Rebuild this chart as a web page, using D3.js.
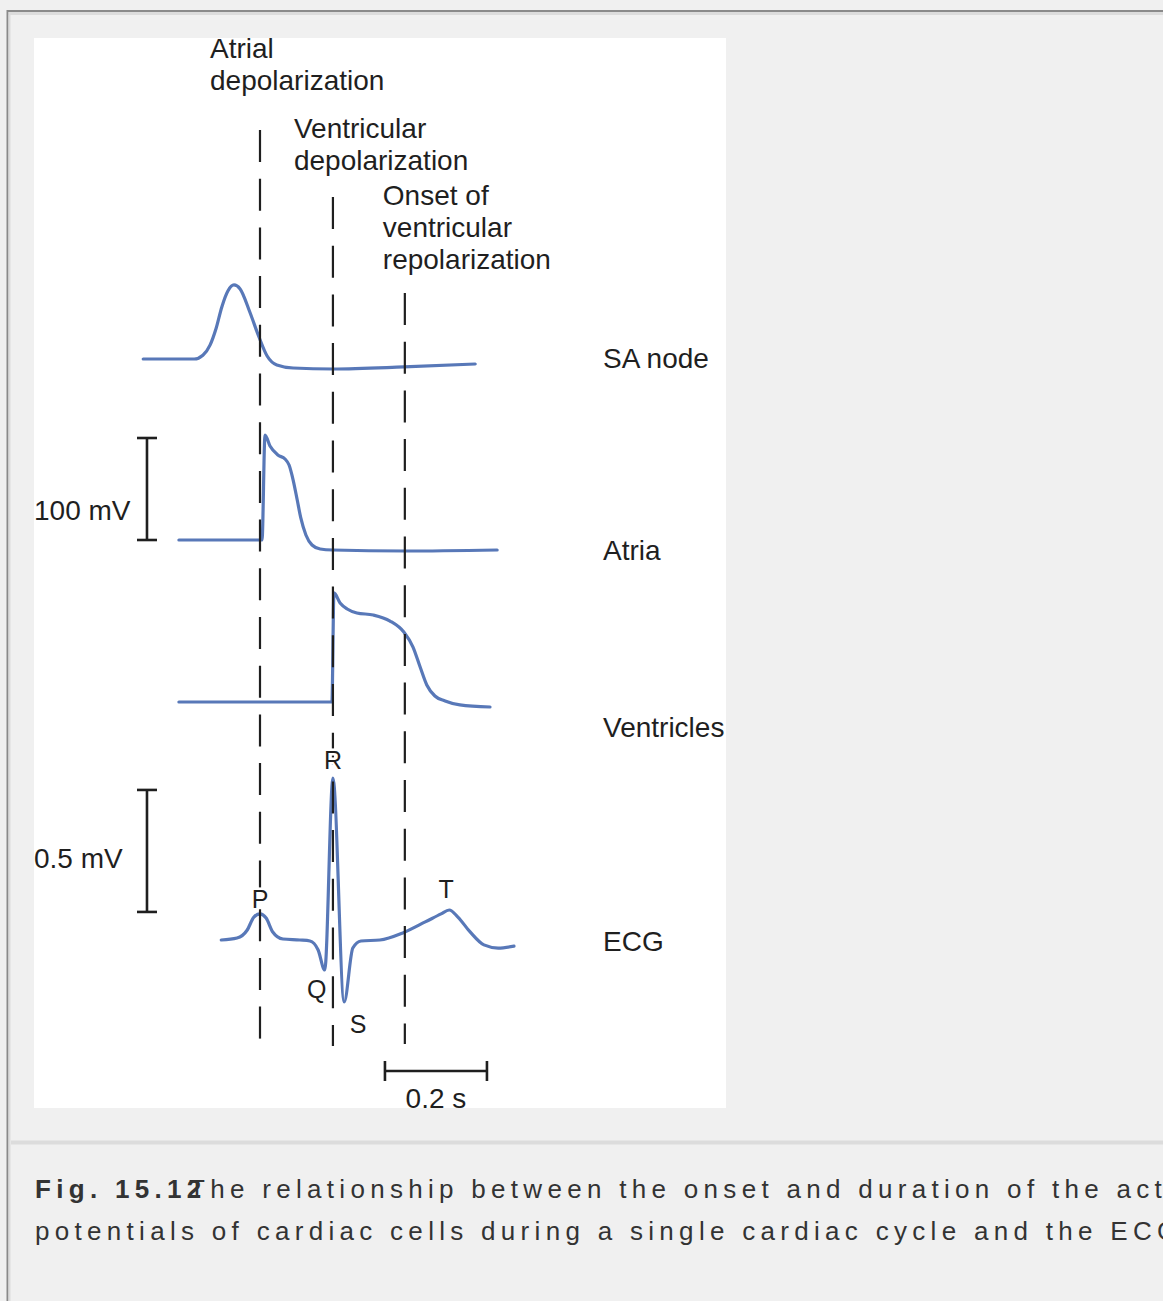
<!DOCTYPE html>
<html>
<head>
<meta charset="utf-8">
<script src="https://cdn.jsdelivr.net/npm/d3@7"></script>
<style>
html,body{margin:0;padding:0;background:#f0f0f0;overflow:hidden;}
svg{display:block;}
</style>
</head>
<body>
<script>
// ---------------- DATA ----------------
// time in seconds (0 = onset of atrial depolarization), voltage in mV
const saNode = [[-0.229,-50.2],[-0.129,-50.2],[-0.112,-46.5],[-0.098,-36.6],[-0.086,-20.0],[-0.075,0.6],[-0.063,16.5],[-0.051,22.4],[-0.039,18.5],[-0.020,-4.1],[-0.002,-28.6],[0.014,-47.3],[0.033,-56.1],[0.065,-59.0],[0.143,-60.0],[0.282,-58.0],[0.422,-55.1]];
const atria = [[-0.159,-80],[0.004,-80],[0.0098,22.9],[0.0196,12.1],[0.035,3.3],[0.049,-0.6],[0.057,-6.5],[0.065,-21.2],[0.073,-40.8],[0.080,-58.4],[0.090,-75.1],[0.102,-84.9],[0.118,-88.8],[0.143,-89.8],[0.284,-90.8],[0.465,-89.8]];
const ventricles = [[-0.159,-90],[0.141,-90],[0.145,16.9],[0.157,7.1],[0.171,1.2],[0.190,-2.7],[0.222,-4.7],[0.255,-10.6],[0.282,-21.4],[0.300,-36.1],[0.314,-55.7],[0.327,-73.3],[0.343,-84.1],[0.363,-89.0],[0.392,-92.9],[0.451,-94.9]];
const ecg = [[-0.076,0],[-0.045,0.008],[-0.025,0.041],[-0.012,0.094],[0.0,0.107],[0.012,0.090],[0.025,0.033],[0.045,0.004],[0.078,0],[0.098,-0.004],[0.114,-0.041],[0.127,-0.123],[0.143,0.664],[0.165,-0.254],[0.182,-0.033],[0.198,-0.004],[0.235,0],[0.280,0.029],[0.324,0.074],[0.355,0.107],[0.371,0.123],[0.388,0.094],[0.412,0.033],[0.439,-0.020],[0.467,-0.033],[0.498,-0.025]];

const traceNames = ["SA node","Atria","Ventricles","ECG"];
const eventTimes = [0, 0.143, 0.284];
const eventLabels = [["Atrial","depolarization"],["Ventricular","depolarization"],["Onset of","ventricular","repolarization"]];
const waveNames = ["P","Q","R","S","T"];
const waveTimes = [0.0, 0.127, 0.143, 0.165, 0.371];
const apBar = [-80, 20];      // 100 mV
const apBarLabel = "100 mV";
const ecgBar = [0.115, 0.615]; // 0.5 mV
const ecgBarLabel = "0.5 mV";
const timeBar = [0.245, 0.445]; // 0.2 s
const timeBarLabel = "0.2 s";
const captionBold = "Fig. 15.12";
const captionLine1 = "The relationship between the onset and duration of the action";
const captionLine2 = "potentials of cardiac cells during a single cardiac cycle and the ECG.";

// ---------------- LAYOUT ----------------
const W = 1163, H = 1301;
const panel = {x:34, y:38, w:692, h:1070};
const curveColor = "#5878b8";
const ink = "#1f1f1f";
const font = "'Liberation Sans', Arial, Helvetica, sans-serif";

const svg = d3.select("body").append("svg").attr("width", W).attr("height", H);

// frame
svg.append("rect").attr("x",0).attr("y",0).attr("width",W).attr("height",H).attr("fill","#f0f0f0");
svg.append("line").attr("x1",7).attr("x2",W).attr("y1",11).attr("y2",11).attr("stroke","#8a8a8a").attr("stroke-width",2);
svg.append("line").attr("x1",8).attr("x2",W).attr("y1",13.5).attr("y2",13.5).attr("stroke","#dcdcdc").attr("stroke-width",3);
svg.append("line").attr("x1",7.5).attr("x2",7.5).attr("y1",10).attr("y2",H).attr("stroke","#8a8a8a").attr("stroke-width",2);
svg.append("line").attr("x1",9.5).attr("x2",9.5).attr("y1",12).attr("y2",H).attr("stroke","#dcdcdc").attr("stroke-width",2);
svg.append("line").attr("x1",11).attr("x2",W).attr("y1",1142.5).attr("y2",1142.5).attr("stroke","#dcdcdc").attr("stroke-width",4);

// panel
svg.append("defs").append("clipPath").attr("id","pclip").append("rect")
  .attr("x",panel.x).attr("y",panel.y).attr("width",panel.w).attr("height",panel.h);
svg.append("rect").attr("x",panel.x).attr("y",panel.y).attr("width",panel.w).attr("height",panel.h).attr("fill","#ffffff");
const g = svg.append("g").attr("clip-path","url(#pclip)");

// scales
const x = d3.scaleLinear().domain([0, 0.2]).range([260, 362]);
const ySA = d3.scaleLinear().domain([-60, 40]).range([369, 267]);
const yAtria = d3.scaleLinear().domain([-80, 20]).range([540, 438]);
const yVent = d3.scaleLinear().domain([-90, 10]).range([702, 600]);
const yECG = d3.scaleLinear().domain([0, 0.5]).range([940, 818]);

const mkLine = ys => d3.line().x(d => x(d[0])).y(d => ys(d[1])).curve(d3.curveMonotoneX);

const traces = [[saNode, ySA],[atria, yAtria],[ventricles, yVent],[ecg, yECG]];
g.selectAll("path.trace").data(traces).enter().append("path")
  .attr("class","trace")
  .attr("d", d => mkLine(d[1])(d[0]))
  .attr("fill","none").attr("stroke",curveColor).attr("stroke-width",3.2)
  .attr("stroke-linejoin","round").attr("stroke-linecap","round");

// dashed event lines
const dashExtent = [[130,1042],[197,1046],[293,1044]];
g.selectAll("line.evt").data(eventTimes).enter().append("line")
  .attr("class","evt")
  .attr("x1", d => x(d)).attr("x2", d => x(d))
  .attr("y1", (d,i) => dashExtent[i][0]).attr("y2", (d,i) => dashExtent[i][1])
  .attr("stroke", ink).attr("stroke-width",2.2).attr("stroke-dasharray","32,16.7");

// event labels
const evtLabelOffset = [[-50, 58],[-39, 138],[-22, 205]];
eventLabels.forEach((lines, i) => {
  const t = g.append("text").attr("font-family",font).attr("font-size",28).attr("fill",ink);
  lines.forEach((s, j) => {
    t.append("tspan").attr("x", x(eventTimes[i]) + evtLabelOffset[i][0])
      .attr("y", evtLabelOffset[i][1] + j * 32.2).text(s);
  });
});

// trace names
const nameY = [368, 560, 737, 951];
g.selectAll("text.tname").data(traceNames).enter().append("text")
  .attr("class","tname").attr("x",603).attr("y",(d,i)=>nameY[i])
  .attr("font-family",font).attr("font-size",28).attr("fill",ink).text(d=>d);

// ECG wave labels (white halo hides the dashed line behind the letter)
const waveDx = [0, -8, 0, 14, -3];
const waveY = [908, 998, 769, 1033, 898];
const waveHalo = [true, false, true, false, false];
g.selectAll("text.wave").data(waveNames).enter().append("text")
  .attr("class","wave")
  .attr("x",(d,i)=>x(waveTimes[i]) + waveDx[i]).attr("y",(d,i)=>waveY[i])
  .attr("text-anchor","middle")
  .attr("font-family",font).attr("font-size",25).attr("fill",ink)
  .attr("stroke",(d,i)=>waveHalo[i] ? "#ffffff" : "none")
  .attr("stroke-width",5).attr("paint-order","stroke")
  .text(d=>d);

// vertical scale bars
const barX = x(-0.2216);
function vBar(ys, vals, label, labelY){
  const y0 = ys(vals[0]), y1 = ys(vals[1]);
  g.append("line").attr("x1",barX).attr("x2",barX).attr("y1",y0).attr("y2",y1).attr("stroke",ink).attr("stroke-width",2.6);
  [y0,y1].forEach(yy => g.append("line").attr("x1",barX-10).attr("x2",barX+10).attr("y1",yy).attr("y2",yy).attr("stroke",ink).attr("stroke-width",2.6));
  g.append("text").attr("x",34).attr("y",labelY).attr("font-family",font).attr("font-size",28).attr("fill",ink).text(label);
}
vBar(yAtria, apBar, apBarLabel, 520);
vBar(yECG, ecgBar, ecgBarLabel, 868);

// horizontal time bar
const tbY = 1071;
const tx0 = x(timeBar[0]), tx1 = x(timeBar[1]);
g.append("line").attr("x1",tx0).attr("x2",tx1).attr("y1",tbY).attr("y2",tbY).attr("stroke",ink).attr("stroke-width",2.6);
[tx0,tx1].forEach(xx => g.append("line").attr("x1",xx).attr("x2",xx).attr("y1",tbY-10).attr("y2",tbY+10).attr("stroke",ink).attr("stroke-width",2.6));
g.append("text").attr("x",(tx0+tx1)/2).attr("y",1108).attr("text-anchor","middle")
  .attr("font-family",font).attr("font-size",28).attr("fill",ink).text(timeBarLabel);

// caption
const capFont = 26, capLS = 5.3;
svg.append("text").attr("x",35).attr("y",1198).attr("font-family",font).attr("font-size",capFont)
  .attr("font-weight","bold").attr("letter-spacing",capLS).attr("fill","#333").text(captionBold);
svg.append("text").attr("x",189).attr("y",1198).attr("font-family",font).attr("font-size",capFont)
  .attr("letter-spacing",capLS).attr("fill","#333").text(captionLine1);
svg.append("text").attr("x",35).attr("y",1240).attr("font-family",font).attr("font-size",capFont)
  .attr("letter-spacing",capLS).attr("fill","#333").text(captionLine2);
</script>
</body>
</html>
